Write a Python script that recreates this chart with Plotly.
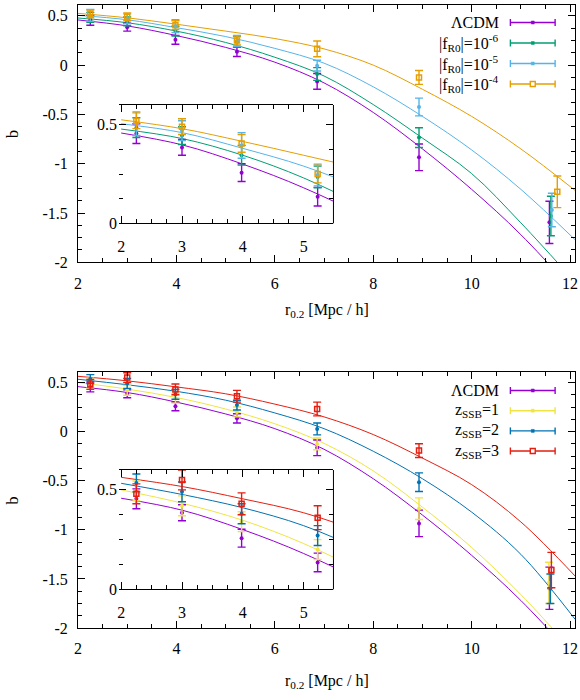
import plotly.graph_objects as go

# ---------------- data ----------------
# measured points: r_0.2 [Mpc/h], b, error on b
r_lcdm = [2.25, 3.0, 3.98, 5.23, 6.86, 8.93, 11.58]
b_lcdm = [0.455, 0.385, 0.257, 0.135, -0.165, -0.935, -1.595]
e_lcdm = [0.05, 0.04, 0.045, 0.047, 0.08, 0.135, 0.215]

r_fr6 = [2.25, 3.0, 3.98, 5.23, 6.86, 8.93, 11.61]
b_fr6 = [0.485, 0.445, 0.345, 0.235, -0.09, -0.735, -1.53]
e_fr6 = [0.05, 0.045, 0.05, 0.055, 0.065, 0.10, 0.20]

r_fr5 = [2.25, 3.0, 3.98, 5.23, 6.86, 8.93, 11.63]
b_fr5 = [0.505, 0.47, 0.395, 0.245, -0.005, -0.425, -1.47]
e_fr5 = [0.06, 0.05, 0.065, 0.055, 0.055, 0.09, 0.17]

r_fr4 = [2.25, 3.0, 3.98, 5.23, 6.86, 8.93, 11.74]
b_fr4 = [0.52, 0.49, 0.405, 0.25, 0.165, -0.125, -1.285]
e_fr4 = [0.04, 0.04, 0.045, 0.045, 0.08, 0.07, 0.16]

r_ssb1 = [2.25, 3.0, 3.98, 5.23, 6.86, 8.93, 11.57]
b_ssb1 = [0.495, 0.42, 0.34, 0.20, -0.125, -0.785, -1.54]
e_ssb1 = [0.05, 0.05, 0.05, 0.05, 0.06, 0.11, 0.21]

r_ssb2 = [2.25, 3.0, 3.98, 5.23, 6.86, 8.93, 11.60]
b_ssb2 = [0.535, 0.49, 0.38, 0.27, 0.027, -0.515, -1.60]
e_ssb2 = [0.045, 0.05, 0.05, 0.05, 0.06, 0.095, 0.15]

r_ssb3 = [2.25, 3.0, 3.98, 5.23, 6.86, 8.93, 11.62]
b_ssb3 = [0.48, 0.55, 0.43, 0.36, 0.23, -0.193, -1.41]
e_ssb3 = [0.05, 0.05, 0.055, 0.06, 0.07, 0.07, 0.18]

# fitted curves at these r values
r_fit = [2, 3, 4, 5, 6, 7, 8, 9, 10, 11, 12.1]
fit_lcdm = [0.458, 0.398, 0.30, 0.18, 0.03, -0.18, -0.48, -0.85, -1.26, -1.72, -2.31]
fit_fr6 = [0.478, 0.43, 0.345, 0.23, 0.08, -0.11, -0.40, -0.74, -1.10, -1.60, -2.20]
fit_fr5 = [0.505, 0.46, 0.38, 0.29, 0.17, 0.02, -0.22, -0.52, -0.86, -1.26, -1.77]
fit_fr4 = [0.525, 0.48, 0.415, 0.345, 0.27, 0.165, 0.0, -0.245, -0.52, -0.85, -1.27]
fit_ssb1 = [0.50, 0.433, 0.347, 0.23, 0.08, -0.12, -0.40, -0.77, -1.18, -1.66, -2.26]
fit_ssb2 = [0.533, 0.477, 0.41, 0.32, 0.19, 0.03, -0.20, -0.48, -0.82, -1.25, -1.91]
fit_ssb3 = [0.563, 0.517, 0.455, 0.385, 0.28, 0.15, -0.03, -0.27, -0.54, -0.92, -1.47]

# labels
labels_top = ["ΛCDM", "|f<sub>R0</sub>|=10<sup>-6</sup>",
              "|f<sub>R0</sub>|=10<sup>-5</sup>", "|f<sub>R0</sub>|=10<sup>-4</sup>"]
labels_bot = ["ΛCDM", "z<sub>SSB</sub>=1", "z<sub>SSB</sub>=2", "z<sub>SSB</sub>=3"]
x_ticks = [2, 4, 6, 8, 10, 12]
x_tick_labels = ["2", "4", "6", "8", "10", "12"]
y_ticks = [-2, -1.5, -1, -0.5, 0, 0.5]
y_tick_labels = ["-2", "-1.5", "-1", "-0.5", "0", "0.5"]
ix_ticks = [2, 3, 4, 5]
ix_tick_labels = ["2", "3", "4", "5"]
iy_ticks = [0, 0.5]
iy_tick_labels = ["0", "0.5"]
x_title = "r<sub>0.2</sub> [Mpc / h]"
y_title = "b"

# ---------------- style ----------------
C_LCDM = "#9400D3"
C_FR6 = "#009E73"
C_FR5 = "#56B4E9"
C_FR4 = "#E69F00"
C_SSB1 = "#F0E442"
C_SSB2 = "#0072B2"
C_SSB3 = "#E51E10"
FONT = "Liberation Serif"

W, H = 580, 700
ML, MR, MT, MB = 78, 2, 5, 72
PW, PH = W - ML - MR, H - MT - MB


def fx(px):
    return (px - ML) / PW


def fy(py):
    return (H - MB - py) / PH


top_series = [
    (r_lcdm, b_lcdm, e_lcdm, fit_lcdm, C_LCDM, "circle"),
    (r_fr6, b_fr6, e_fr6, fit_fr6, C_FR6, "circle"),
    (r_fr5, b_fr5, e_fr5, fit_fr5, C_FR5, "circle"),
    (r_fr4, b_fr4, e_fr4, fit_fr4, C_FR4, "square-open"),
]
bot_series = [
    (r_lcdm, b_lcdm, e_lcdm, fit_lcdm, C_LCDM, "circle"),
    (r_ssb1, b_ssb1, e_ssb1, fit_ssb1, C_SSB1, "circle"),
    (r_ssb2, b_ssb2, e_ssb2, fit_ssb2, C_SSB2, "circle"),
    (r_ssb3, b_ssb3, e_ssb3, fit_ssb3, C_SSB3, "square-open"),
]

fig = go.Figure()


def add_panel(series, xa, ya):
    for r, b, e, f, c, sym in series:
        fig.add_trace(go.Scatter(
            x=r_fit, y=f, mode="lines", xaxis=xa, yaxis=ya,
            line=dict(color=c, width=1, shape="spline"),
            showlegend=False, hoverinfo="skip"))
    for r, b, e, f, c, sym in series:
        is_sq = sym == "square-open"
        fig.add_trace(go.Scatter(
            x=r, y=b, mode="markers", xaxis=xa, yaxis=ya,
            marker=dict(symbol=sym, color=c, size=5 if is_sq else 4,
                        line=dict(color=c, width=1.5 if is_sq else 0)),
            error_y=dict(type="data", array=e, visible=True, color=c,
                         thickness=1.4, width=4),
            showlegend=False))


add_panel(top_series, "x", "y")
add_panel(top_series, "x3", "y3")
add_panel(bot_series, "x2", "y2")
add_panel(bot_series, "x4", "y4")

tickfont = dict(family=FONT, size=16, color="black")


def main_x(anchor):
    return dict(domain=[0, 1], anchor=anchor, range=[2, 12.1],
                tickmode="array", tickvals=x_ticks, ticktext=x_tick_labels,
                ticks="inside", ticklen=7, tickwidth=1, tickcolor="black",
                showline=True, linecolor="black", linewidth=1, mirror="allticks",
                showgrid=False, zeroline=False, tickfont=tickfont,
                ticklabelstandoff=6, ticklabeloverflow="allow",
                minor=dict(ticks="inside", ticklen=4, dtick=0.5, tick0=2,
                           tickcolor="black", tickwidth=1, showgrid=False))


def main_y(dom, anchor):
    return dict(domain=dom, anchor=anchor, range=[-2, 0.61],
                tickmode="array", tickvals=y_ticks, ticktext=y_tick_labels,
                ticks="inside", ticklen=7, tickwidth=1, tickcolor="black",
                showline=True, linecolor="black", linewidth=1, mirror="allticks",
                showgrid=False, zeroline=False, tickfont=tickfont,
                ticklabelstandoff=6,
                minor=dict(ticks="inside", ticklen=4, dtick=0.125, tick0=0,
                           tickcolor="black", tickwidth=1, showgrid=False))


IX0, IX1 = 1.965, 5.49


def inset_x(anchor):
    return dict(domain=[fx(119.3), fx(335)], anchor=anchor, range=[IX0, IX1],
                tickmode="array", tickvals=ix_ticks, ticktext=ix_tick_labels,
                ticks="inside", ticklen=7, tickwidth=1, tickcolor="black",
                showline=True, linecolor="black", linewidth=1, mirror="allticks",
                showgrid=False, zeroline=False, tickfont=tickfont,
                ticklabelstandoff=8,
                minor=dict(ticks="inside", ticklen=4, dtick=0.25, tick0=2,
                           tickcolor="black", tickwidth=1, showgrid=False))


def inset_y(dom, anchor):
    return dict(domain=dom, anchor=anchor, range=[0, 0.6],
                tickmode="array", tickvals=iy_ticks, ticktext=iy_tick_labels,
                ticks="inside", ticklen=7, tickwidth=1, tickcolor="black",
                showline=False, mirror="allticks",
                showgrid=False, zeroline=False, tickfont=tickfont,
                ticklabelstandoff=1,
                minor=dict(ticks="inside", ticklen=4, dtick=0.125, tick0=0,
                           tickcolor="black", tickwidth=1, showgrid=False))


shapes = []
# white background of the insets (drawn in the inset subplot, above main traces)
for xa, ya in (("x3", "y3"), ("x4", "y4")):
    shapes.append(dict(type="rect", xref=xa, yref=ya, x0=IX0, x1=IX1, y0=0, y1=0.6,
                       fillcolor="white", line=dict(width=0), layer="below"))
    shapes.append(dict(type="line", xref=xa + " domain", yref=ya + " domain",
                       x0=1, x1=1, y0=0, y1=1, line=dict(color="black", width=1),
                       layer="above"))

annotations = []


def add_key(labels, colors, syms, rows):
    for lab, c, sym, py in zip(labels, colors, syms, rows):
        annotations.append(dict(text=lab, xref="paper", yref="paper", x=fx(504), y=fy(py),
                                xanchor="right", yanchor="middle", showarrow=False,
                                font=dict(family=FONT, size=16, color="black")))
        x0, x1 = fx(513), fx(558)
        shapes.append(dict(type="line", xref="paper", yref="paper", x0=x0, x1=x1,
                           y0=fy(py), y1=fy(py), line=dict(color=c, width=1.4), layer="above"))
        for xe in (x0, x1):
            shapes.append(dict(type="line", xref="paper", yref="paper", x0=xe, x1=xe,
                               y0=fy(py - 3.5), y1=fy(py + 3.5),
                               line=dict(color=c, width=1.4), layer="above"))
        xm = fx(535.5)
        if sym == "square-open":
            shapes.append(dict(type="rect", xref="paper", yref="paper",
                               x0=xm - 2.5 / PW, x1=xm + 2.5 / PW,
                               y0=fy(py + 2.5), y1=fy(py - 2.5),
                               fillcolor="white", line=dict(color=c, width=1.4), layer="above"))
        else:
            shapes.append(dict(type="rect", xref="paper", yref="paper",
                               x0=xm - 1.5 / PW, x1=xm + 1.5 / PW,
                               y0=fy(py + 1.5), y1=fy(py - 1.5),
                               fillcolor=c, line=dict(color=c, width=0.5), layer="above"))


add_key(labels_top, [s[4] for s in top_series], [s[5] for s in top_series],
        [22.5, 43, 63.5, 84])
add_key(labels_bot, [s[4] for s in bot_series], [s[5] for s in bot_series],
        [390.5, 410.7, 430.9, 451])

for py_title, py_b in ((310, 133.5), (681, 500)):
    annotations.append(dict(text=x_title, xref="paper", yref="paper", x=0.5, y=fy(py_title),
                            xanchor="center", yanchor="middle", showarrow=False,
                            font=dict(family=FONT, size=16, color="black")))
    annotations.append(dict(text=y_title, xref="paper", yref="paper", x=fx(12), y=fy(py_b),
                            xanchor="center", yanchor="middle", showarrow=False, textangle=-90,
                            font=dict(family=FONT, size=16, color="black")))

fig.update_layout(
    width=W, height=H,
    margin=dict(l=ML, r=MR, t=MT, b=MB),
    paper_bgcolor="white", plot_bgcolor="white",
    showlegend=False,
    xaxis=main_x("y"),
    yaxis=main_y([fy(262.3), 1.0], "x"),
    xaxis2=main_x("y2"),
    yaxis2=main_y([0.0, fy(371.7)], "x2"),
    xaxis3=inset_x("y3"),
    yaxis3=inset_y([fy(223.3), fy(105)], "x3"),
    xaxis4=inset_x("y4"),
    yaxis4=inset_y([fy(589.3), fy(470)], "x4"),
    shapes=shapes,
    annotations=annotations,
    font=dict(family=FONT, size=16, color="black"),
)

fig.write_html("out.html",
               config={"displayModeBar": False},
               post_script="document.body.style.margin='0';document.body.style.padding='0';")
